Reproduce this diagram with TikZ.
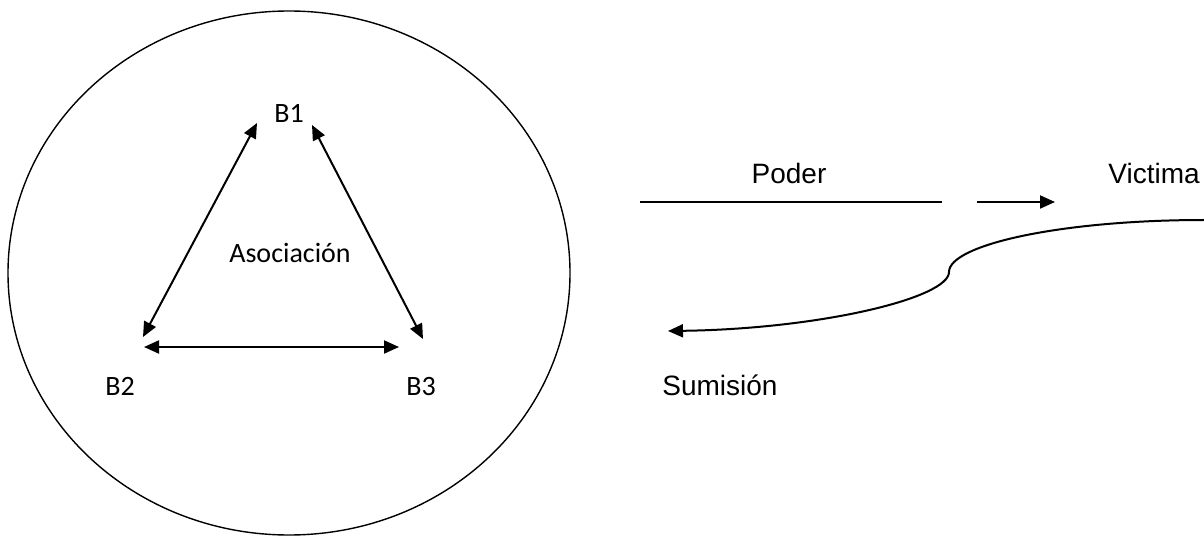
\documentclass[tikz,border=0pt]{standalone}
\usepackage{fontspec}
\setmainfont{Liberation Sans}
\newfontfamily\calib{Carlito}
\usetikzlibrary{arrows.meta}
\tikzset{
  tip/.tip={Triangle[length=15pt,width=13pt]},
  conn/.style={line width=2pt, {tip}-{tip}},
  oneway/.style={line width=2pt, -{tip}},
  clbl/.style={inner sep=0pt, anchor=base, font=\calib\fontsize{28}{30}\selectfont},
  albl/.style={inner sep=0pt, anchor=base, font=\fontsize{28}{30}\selectfont}
}
\begin{document}
\begin{tikzpicture}[x=1pt,y=-1pt]
\useasboundingbox (0,0) rectangle (1204,537);
% big circle
\draw[line width=1.4pt] (289,273) ellipse [x radius=281, y radius=262];
% labels triangle
\node[clbl] (b1) at (289,123) {B1};
\node[clbl] (b2) at (120,395) {B2};
\node[clbl] (b3) at (421,395) {B3};
\node[clbl] (aso) at (290,262) {Asociación};
% arrow endpoints
\coordinate (b1l) at (257,123);
\coordinate (b1r) at (312,125);
\coordinate (b2u) at (143,337);
\coordinate (b2h) at (144,347);
\coordinate (b3u) at (423,339);
\coordinate (b3h) at (399,347);
\draw[conn] (b2u) -- (b1l);
\draw[conn] (b1r) -- (b3u);
\draw[conn] (b2h) -- (b3h);
% right part
\node[albl] (poder) at (789,184) {Poder};
\node[albl] (vict) at (1154,184) {Victima};
\node[albl] (sum) at (720,395) {Sumisión};
\coordinate (pl) at (640,202);
\coordinate (pr) at (942,202);
\draw[line width=1.7pt] (pl) -- (pr);
\coordinate (al) at (977,202);
\coordinate (ar) at (1055,202);
\draw[oneway] (al) -- (ar);
\coordinate (cs) at (1204,220);
\coordinate (cm) at (949,272);
\coordinate (ce) at (668,331);
\draw[oneway] (cs) .. controls (1060,220) and (949,245) .. (cm)
  .. controls (949,298) and (820,329) .. (ce);
\end{tikzpicture}
\end{document}
